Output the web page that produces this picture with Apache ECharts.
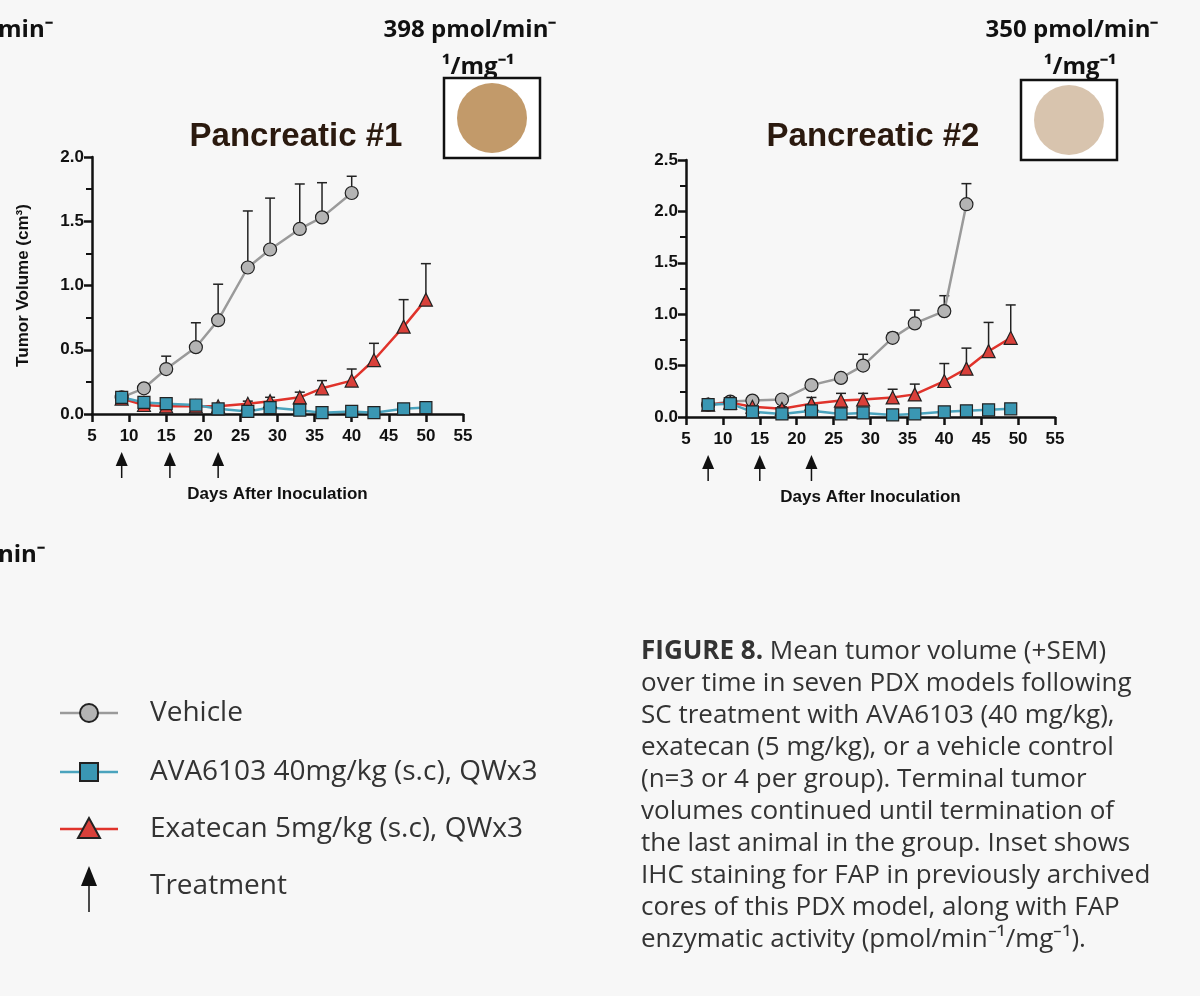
<!DOCTYPE html><html><head><meta charset="utf-8"><script src="https://cdn.jsdelivr.net/npm/echarts@6/dist/echarts.min.js"></script>
<style>body{margin:0;background:#f7f7f7}#c{width:1200px;height:996px}</style></head><body><div id="c"></div><script>
// Panel 1
const p1VehDays=[9,12,15,19,22,26,29,33,36,40];
const p1Veh=[0.13,0.20,0.35,0.52,0.73,1.14,1.28,1.44,1.53,1.72];
const p1VehErr=[0.13,0.21,0.45,0.71,1.01,1.58,1.68,1.79,1.80,1.85];
const p1Days=[9,12,15,19,22,26,29,33,36,40,43,47,50];
const p1Ava=[0.13,0.09,0.08,0.07,0.04,0.02,0.05,0.03,0.01,0.02,0.01,0.04,0.05];
const p1AvaErr=[0.13,0.09,0.08,0.07,0.04,0.02,0.06,0.03,0.01,0.02,0.01,0.06,0.07];
const p1Exa=[0.12,0.07,0.06,0.06,0.06,0.08,0.10,0.13,0.20,0.26,0.42,0.68,0.89];
const p1ExaErr=[0.12,0.07,0.06,0.06,0.07,0.10,0.13,0.17,0.26,0.35,0.55,0.89,1.17];
const p1Treat=[9,15.5,22];
// Panel 2
const p2VehDays=[8,11,14,18,22,26,29,33,36,40,43];
const p2Veh=[0.12,0.15,0.16,0.17,0.31,0.38,0.50,0.77,0.91,1.03,2.07];
const p2VehErr=[0.12,0.15,0.16,0.17,0.31,0.40,0.61,0.82,1.04,1.18,2.27];
const p2Days=[8,11,14,18,22,26,29,33,36,40,43,46,49];
const p2Ava=[0.12,0.13,0.05,0.03,0.06,0.03,0.04,0.02,0.03,0.05,0.06,0.07,0.08];
const p2AvaErr=[0.12,0.13,0.05,0.03,0.06,0.03,0.04,0.02,0.03,0.05,0.06,0.07,0.08];
const p2Exa=[0.12,0.14,0.10,0.08,0.13,0.16,0.17,0.19,0.22,0.35,0.47,0.64,0.77];
const p2ExaErr=[0.12,0.14,0.12,0.10,0.19,0.23,0.23,0.27,0.32,0.52,0.67,0.92,1.09];
const p2Treat=[8,15,22];
const xTicks=[5,10,15,20,25,30,35,40,45,50,55];
const legendNames=['Vehicle','AVA6103 40mg/kg (s.c), QWx3','Exatecan 5mg/kg (s.c), QWx3','Treatment'];

const C={veh:'#9a9a9a',vehF:'#b4b4b4',ava:'#4aa3bd',avaF:'#3a97b3',exa:'#e0332b',exaF:'#d9403a'};
const zip=(a,b)=>a.map((d,i)=>[d,b[i]]);
function errSeries(g,days,v,e){return {type:'custom',xAxisIndex:g,yAxisIndex:g,z:1,data:days.map((d,i)=>[d,v[i],e[i]]),
 renderItem:(p,api)=>{const a=api.coord([api.value(0),api.value(1)]),b=api.coord([api.value(0),api.value(2)]);
 if(a[1]-b[1]<2)return null;
 return {type:'group',children:[{type:'line',shape:{x1:a[0],y1:a[1],x2:b[0],y2:b[1]},style:{stroke:'#222',lineWidth:1.5}},
 {type:'line',shape:{x1:b[0]-5,y1:b[1],x2:b[0]+5,y2:b[1]},style:{stroke:'#222',lineWidth:1.5}}]};}};}
function arrows(g,days){return {type:'custom',xAxisIndex:g,yAxisIndex:g,data:days.map(d=>[d,0]),clip:false,
 renderItem:(p,api)=>{const a=api.coord([api.value(0),0]);return {type:'group',children:[
 {type:'line',shape:{x1:a[0],y1:a[1]+46,x2:a[0],y2:a[1]+64},style:{stroke:'#111',lineWidth:1.5}},
 {type:'polygon',shape:{points:[[a[0],a[1]+38],[a[0]-6,a[1]+52],[a[0]+6,a[1]+52]]},style:{fill:'#111'}}]};}};}
function line(g,days,v,sym,col,fill,size){return {type:'line',xAxisIndex:g,yAxisIndex:g,z:3,data:zip(days,v),symbol:sym,symbolSize:size,
 lineStyle:{color:col,width:2.5},itemStyle:{color:fill,borderColor:'#222',borderWidth:1.2}};}
const tri='path://M0,10 L5,0 L10,10 Z';
function grid(l,t,w,h){return {left:l,top:t,width:w,height:h};}
const F='"Liberation Sans"';
const axisX=(g)=>({type:'value',gridIndex:g,min:5,max:55,interval:5,axisLine:{lineStyle:{color:'#111',width:2.5}},
 axisTick:{length:8,lineStyle:{color:'#111',width:2.5}},splitLine:{show:false},
 axisLabel:{color:'#111',fontWeight:'bold',fontSize:17,fontFamily:'Liberation Sans',margin:14},
 name:'Days After Inoculation',nameLocation:'middle',nameGap:72,nameTextStyle:{color:'#111',fontWeight:'bold',fontSize:17,fontFamily:'Liberation Sans'}});
const axisY=(g,max,name)=>({type:'value',gridIndex:g,min:0,max:max,interval:0.5,axisLine:{show:true,lineStyle:{color:'#111',width:2.5}},
 axisTick:{length:8,lineStyle:{color:'#111',width:2.5}},minorTick:{show:true,splitNumber:2,length:6,lineStyle:{color:'#111',width:2}},
 splitLine:{show:false},axisLabel:{color:'#111',fontWeight:'bold',fontSize:17,fontFamily:'Liberation Sans',formatter:v=>v.toFixed(1)},
 name:name,nameLocation:'middle',nameGap:60,nameTextStyle:{color:'#111',fontWeight:'bold',fontSize:17,fontFamily:'Liberation Sans'}});

const cap=['{b|FIGURE 8.} Mean tumor volume (+SEM)','over time in seven PDX models following','SC treatment with AVA6103 (40 mg/kg),',
'exatecan (5 mg/kg), or a vehicle control','(n=3 or 4 per group). Terminal tumor','volumes continued until termination of',
'the last animal in the group. Inset shows','IHC staining for FAP in previously archived','cores of this PDX model, along with FAP',
'enzymatic activity (pmol/min⁻¹/mg⁻¹).'];
const gfx=[];
const T=(x,y,txt,o)=>gfx.push(Object.assign({type:'text',x,y,style:Object.assign({text:txt,fill:'#111',font:'bold 24px "Open Sans"'},o||{})}));
T(-2,30,'min⁻',{textVerticalAlign:'middle'});T(-2,555,'nin⁻',{textVerticalAlign:'middle'});
T(470,30,'398 pmol/min⁻',{textAlign:'center',textVerticalAlign:'middle'});T(478,67,'¹/mg⁻¹',{textAlign:'center',textVerticalAlign:'middle'});
T(1072,30,'350 pmol/min⁻',{textAlign:'center',textVerticalAlign:'middle'});T(1080,67,'¹/mg⁻¹',{textAlign:'center',textVerticalAlign:'middle'});
T(296,137,'Pancreatic #1',{textAlign:'center',textVerticalAlign:'middle',fill:'#2b1a0f',font:'bold 33px "Liberation Sans"'});
T(873,137,'Pancreatic #2',{textAlign:'center',textVerticalAlign:'middle',fill:'#2b1a0f',font:'bold 33px "Liberation Sans"'});
[[444,78,'#c29a6a'],[1021,80,'#d8c4ae']].forEach(([x,y,c])=>{gfx.push({type:'rect',shape:{x,y,width:96,height:80},style:{fill:'#fff',stroke:'#111',lineWidth:2.5}});
 gfx.push({type:'circle',shape:{cx:x+48,cy:y+40,r:35},style:{fill:c}});});
const ly=[713,772,829,886];
gfx.push({type:'line',shape:{x1:60,y1:713,x2:118,y2:713},style:{stroke:C.veh,lineWidth:2.5}},{type:'circle',shape:{cx:89,cy:713,r:9},style:{fill:C.vehF,stroke:'#222',lineWidth:2}});
gfx.push({type:'line',shape:{x1:60,y1:772,x2:118,y2:772},style:{stroke:C.ava,lineWidth:2.5}},{type:'rect',shape:{x:80,y:763,width:18,height:18},style:{fill:C.avaF,stroke:'#222',lineWidth:2}});
gfx.push({type:'line',shape:{x1:60,y1:829,x2:118,y2:829},style:{stroke:C.exa,lineWidth:2.5}},{type:'polygon',shape:{points:[[89,818],[78,838],[100,838]]},style:{fill:C.exaF,stroke:'#222',lineWidth:2}});
gfx.push({type:'line',shape:{x1:89,y1:885,x2:89,y2:912},style:{stroke:'#111',lineWidth:1.5}},{type:'polygon',shape:{points:[[89,866],[81,886],[97,886]]},style:{fill:'#111'}});
legendNames.forEach((n,i)=>T(150,ly[i],n,{textVerticalAlign:'middle',font:'28px "Open Sans"',fill:'#333'}));
gfx.push({type:'text',x:641,y:636,style:{text:cap.join('\n'),fill:'#333',font:'26px "Open Sans"',lineHeight:32,
 rich:{b:{fontWeight:'bold',fontSize:26,fontFamily:'Open Sans',fill:'#333',lineHeight:32}}}});

const chart=echarts.init(document.getElementById('c'));
chart.setOption({backgroundColor:'#f7f7f7',animation:false,
 grid:[grid(92,157,371,257),grid(686,160,369,257)],
 xAxis:[axisX(0),axisX(1)],yAxis:[axisY(0,2,'Tumor Volume (cm³)'),axisY(1,2.5,'')],
 series:[errSeries(0,p1VehDays,p1Veh,p1VehErr),errSeries(0,p1Days,p1Exa,p1ExaErr),errSeries(0,p1Days,p1Ava,p1AvaErr),
 line(0,p1VehDays,p1Veh,'circle',C.veh,C.vehF,13),line(0,p1Days,p1Exa,tri,C.exa,C.exaF,13),line(0,p1Days,p1Ava,'rect',C.ava,C.avaF,12),arrows(0,p1Treat),
 errSeries(1,p2VehDays,p2Veh,p2VehErr),errSeries(1,p2Days,p2Exa,p2ExaErr),errSeries(1,p2Days,p2Ava,p2AvaErr),
 line(1,p2VehDays,p2Veh,'circle',C.veh,C.vehF,13),line(1,p2Days,p2Exa,tri,C.exa,C.exaF,13),line(1,p2Days,p2Ava,'rect',C.ava,C.avaF,12),arrows(1,p2Treat)],
 graphic:gfx});
</script></body></html>
